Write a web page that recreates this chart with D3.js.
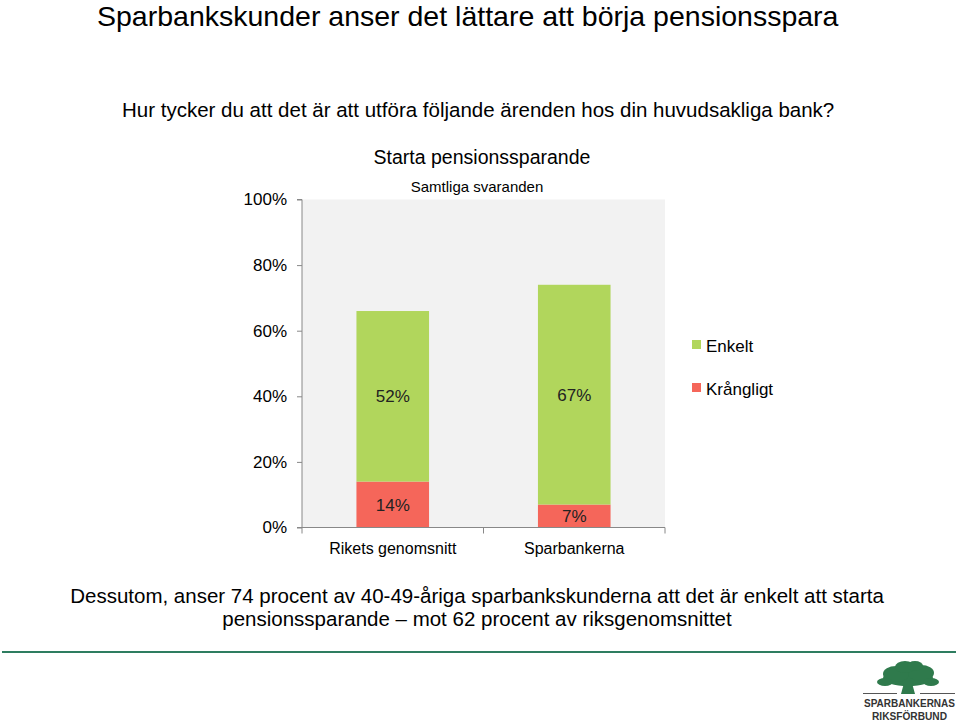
<!DOCTYPE html>
<html><head><meta charset="utf-8">
<script src="https://cdn.jsdelivr.net/npm/d3@7"></script>
<style>body{margin:0;background:#fff;} svg{display:block;font-family:"Liberation Sans",Arial,sans-serif;}</style>
</head><body>
<svg id="c" width="960" height="722"></svg>
<script>
const categories = ["Rikets genomsnitt", "Sparbankerna"];
const krangligt = [14, 7];
const enkelt = [52, 67];
const yTicks = [0, 20, 40, 60, 80, 100];
const seriesNames = ["Enkelt", "Krångligt"];
const colors = {"Enkelt": "#b1d65c", "Krångligt": "#f5665a"};

const svg = d3.select("#c");
svg.append("text").attr("x", 97).attr("y", 26).attr("font-size", 28.5).attr("fill", "#000")
  .text("Sparbankskunder anser det lättare att börja pensionsspara");
svg.append("text").attr("x", 122).attr("y", 117).attr("font-size", 20.5).attr("fill", "#000")
  .text("Hur tycker du att det är att utföra följande ärenden hos din huvudsakliga bank?");
svg.append("text").attr("x", 482).attr("y", 164).attr("text-anchor", "middle").attr("font-size", 19.5).attr("fill", "#000")
  .text("Starta pensionssparande");
svg.append("text").attr("x", 477).attr("y", 192).attr("text-anchor", "middle").attr("font-size", 15).attr("fill", "#000")
  .text("Samtliga svaranden");

const x0 = 302, x1 = 665, y0 = 527.5, y1 = 199.5;
const x = d3.scaleBand().domain(categories).range([x0, x1]).paddingInner(0.6).paddingOuter(0.3);
const y = d3.scaleLinear().domain([0, 100]).range([y0, y1]);

svg.append("rect").attr("x", x0).attr("y", y1).attr("width", x1 - x0).attr("height", y0 - y1).attr("fill", "#f2f2f2");

const data = categories.map((c, i) => ({cat: c, Krångligt: krangligt[i], Enkelt: enkelt[i]}));
const stack = d3.stack().keys(["Krångligt", "Enkelt"])(data);
const g = svg.append("g");
stack.forEach(s => {
  g.selectAll(null).data(s).enter().append("rect")
    .attr("x", d => x(d.data.cat)).attr("width", x.bandwidth())
    .attr("y", d => y(d[1])).attr("height", d => y(d[0]) - y(d[1]))
    .attr("fill", colors[s.key]);
  g.selectAll(null).data(s).enter().append("text")
    .attr("x", d => x(d.data.cat) + x.bandwidth() / 2)
    .attr("y", d => (y(d[0]) + y(d[1])) / 2 + 6)
    .attr("text-anchor", "middle").attr("font-size", 17).attr("fill", "#222")
    .text(d => (d[1] - d[0]) + "%");
});

// y axis
const ya = svg.append("g").attr("transform", `translate(${x0},0)`)
  .call(d3.axisLeft(y).tickValues(yTicks).tickFormat(d => d + "%").tickSize(5).tickPadding(10));
ya.select(".domain").attr("stroke", "#888").attr("d", `M-5,${y1}H0V${y0}H-5`);
ya.selectAll(".tick line").attr("stroke", "#888");
ya.selectAll(".tick text").attr("font-size", 17).attr("fill", "#000").attr("font-family", "Liberation Sans, Arial, sans-serif");

// x axis
const xa = svg.append("g").attr("transform", `translate(0,${y0})`)
  .call(d3.axisBottom(x).tickSize(0).tickPadding(15));
xa.select(".domain").attr("stroke", "#888").attr("d", `M${x0},0H${x1}`);
xa.selectAll(".tick text").attr("font-size", 16).attr("fill", "#000").attr("font-family", "Liberation Sans, Arial, sans-serif");
[x0, (x0 + x1) / 2, x1].forEach(v => {
  svg.append("line").attr("x1", v).attr("x2", v).attr("y1", y0).attr("y2", y0 + 6).attr("stroke", "#888");
});

// legend
const leg = svg.append("g");
seriesNames.forEach((n, i) => {
  leg.append("rect").attr("x", 692).attr("y", 340 + i * 43).attr("width", 9).attr("height", 9).attr("fill", colors[n]);
  leg.append("text").attr("x", 706).attr("y", 352 + i * 43).attr("font-size", 17).attr("fill", "#000").text(n);
});

// bottom text
svg.append("text").attr("x", 477).attr("y", 603).attr("text-anchor", "middle").attr("font-size", 20.5).attr("fill", "#000")
  .text("Dessutom, anser 74 procent av 40-49-åriga sparbankskunderna att det är enkelt att starta");
svg.append("text").attr("x", 477).attr("y", 626).attr("text-anchor", "middle").attr("font-size", 20.5).attr("fill", "#000")
  .text("pensionssparande – mot 62 procent av riksgenomsnittet");

svg.append("line").attr("x1", 2).attr("x2", 956).attr("y1", 652).attr("y2", 652).attr("stroke", "#2e7d60").attr("stroke-width", 2);

// logo
const lg = svg.append("g");
const tc = "#2f7a4c";
[[908,678,25,8],[896,674,13,8],[921,673,13,8],[905,667,10,6],[915,666,8,5],[885,682,8,4],[931,682,8,4]].forEach(e => {
  lg.append("ellipse").attr("cx", e[0]).attr("cy", e[1]).attr("rx", e[2]).attr("ry", e[3]).attr("fill", tc);
});
lg.append("path").attr("d", "M904,683 L901,694 L915,694 L912,683 Z").attr("fill", tc);
lg.append("line").attr("x1", 863).attr("x2", 897).attr("y1", 693.5).attr("y2", 693.5).attr("stroke", "#555").attr("stroke-width", 1);
lg.append("line").attr("x1", 920).attr("x2", 955).attr("y1", 693.5).attr("y2", 693.5).attr("stroke", "#555").attr("stroke-width", 1);
lg.append("text").attr("x", 864).attr("y", 707).attr("font-size", 10.5).attr("font-weight", "bold")
  .attr("textLength", 91).attr("lengthAdjust", "spacingAndGlyphs")
  .attr("fill", "#333").text("SPARBANKERNAS");
lg.append("text").attr("x", 872).attr("y", 719.5).attr("font-size", 10.5).attr("font-weight", "bold")
  .attr("textLength", 75).attr("lengthAdjust", "spacingAndGlyphs")
  .attr("fill", "#333").text("RIKSFÖRBUND");
</script>
</body></html>
